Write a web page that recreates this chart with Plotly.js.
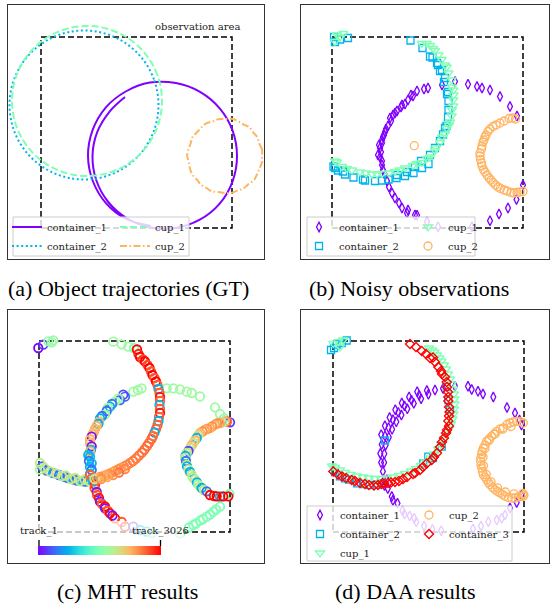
<!DOCTYPE html>
<html>
<head>
<meta charset="utf-8">
<script src="https://cdn.plot.ly/plotly-3.0.1.min.js"></script>
<style>html,body{margin:0;padding:0;background:#fff;}#chart{width:551px;height:607px;}</style>
</head>
<body>
<div id="chart"></div>
<script>
// ---------------- DATA (world units: observation area = [0,191] x [0,191]) ----------------
// (a) ground-truth trajectories
const gtContainer1X = [84,68.8,56.2,51.5,55.3,67.2,86,109.4,134.7,158.8,178.7,191.6,196,191.6,178.7,159,134.9,109,84.7,64.5,51.5,47,52,65.3,85.5,109.6];
const gtContainer1Y = [131,116.7,95.9,72,47.7,26,9.6,0.6,0.1,8.3,24.4,46.7,72,97.3,119.6,136.1,144.9,145.4,136.5,120.2,97.7,72,46.5,24.4,8.8,2.1];
const gtContainer2X = [117.5,113,100.1,80.3,56,30,5.8,-14.1,-27,-31.5,-27,-14.1,5.8,30,56,80.3,100.1,113,117.5];
const gtContainer2Y = [123,148.5,170.9,187.5,196.4,196.4,187.5,170.9,148.5,123,97.5,75.1,58.5,49.6,49.6,58.5,75.1,97.5,123];
const gtCup1X = [121,116.5,103.5,83.5,59,33,8.5,-11.5,-24.5,-29,-24.5,-11.5,8.5,33,59,83.5,103.5,116.5,121];
const gtCup1Y = [127,152.7,175.2,192,200.9,200.9,192,175.2,152.7,127,101.3,78.8,62,53.1,53.1,62,78.8,101.3,127];
const gtCup2X = [221,221,218.3,216.3,212.2,208.2,202.3,196.7,190.6,184,177.5,171.5,165.2,160.2,155.9,151.5,149.6,147.3,146.2,147.8,149,151.4,155.9,160,165.5,171.1,177.6,184,190.5,196.6,202.7,207.5,212.9,216,218.5,220.8,221];
const gtCup2Y = [72,78.5,84.5,90.7,95.7,100.9,103.7,107,109.2,108.9,108.8,106.3,104.6,100.3,95.6,90.8,84.5,78.5,72,65.6,59.3,53.2,48.4,43.4,40,36.6,36,34.9,35.1,37.4,39.7,44,47.8,53.5,59.4,65.5,72];

// (b) noisy observations
const obsContainer1X = [96,92,85,81,79,76,73,70,69,65,63,61,59,58,56,54,53,51,52,50,50,48,47,49,48,46,50,50,51,53,55,57,60,63,67,70,75,76,83,85,95,106,110,123,136,145,150,158,168,178,185,191,184.5,176,167,158,140];
const obsContainer1Y = [140,139,137,132,133,128,124,123,121,117,115,113,107,110,102,99,96,91,93,85,88,80,83,76,71,73,67,63,58,53,47,41,35,30,25,20,15,18,13,12.7,6.3,1.3,143,146.5,143.7,141.5,140,138,131.5,121.5,112,43,28.5,20,14,7.3,1.3];
const obsContainer2X = [3,8,16,2,78.5,90.5,98,100.5,105,106,108,110,113,112,116,115,116.5,116.5,116,114.5,113,111,108,103,98,96.5,90,89,83,81.5,75,73,65,64.5,56.5,50,43,33,31,21.5,13,11,6,1.5,3];
const obsContainer2Y = [186,188.5,190,191,187.5,180,171.5,170.5,165,163,157,158,150,146,136,134,127,118,111,102,100,93.5,87,80,73,64,60,67,61,55,56,52,53,50,48.5,47.5,47,47.5,48.5,50.5,53.5,56.5,57.5,61.5,60];
const obsCup1X = [3,5,11.3,8,89.7,94.7,98,101,103,106.5,109.7,113,114.7,116.5,119.7,120,121.3,121.5,121.3,121.3,120,119.7,118,117,114.7,113,110,108,104,103,98,95,90,85,81,73,68,63,57,50,45,40,34,28,20,15,10,5,3];
const obsCup1Y = [186.5,193,194.5,191,184.5,184.5,182.5,179.5,177.5,173,168.5,163,161,155,148,141,138,133,128,122,118,112,106,103,99.5,94,91,85.5,80,77.5,71,69.5,65.5,64.5,62.5,60,58,56.5,55,54.5,54,54,55,56,58,59.5,61.5,66,67];
const obsCup2X = [82.3,177,180.5,183.5,172,168,164,161,158,156,154,153,152,151,150,149.5,148,148,148.5,149.5,150,151.5,153,155,157,159,161,163.5,166,168.5,172,175,179,182,185,188,191];
const obsCup2Y = [82.3,109.5,110,109,107,105,103,101.5,99,96.5,93,91,88,86,82,79,75,72,68.5,65,62,58.5,56,53,50,48,45.5,43,41,39.5,38,37,35.5,35,35.5,36,36.5];

// (c) MHT results: observation positions and assigned track id (1 .. 3026)
const mhtX = [-0.7,4.3,9.3,12.7,14.3,
  94.3,99,102.7,127.7,134.3,141,147.7,152.7,161,176,181,185,
  190.5,181,177,174.3,171,167.7,164,161,157,154.3,150,141,
  3,7.7,14,20,26,29,35,38,44.3,47,52,1,1,5.5,11,17,23,32,41,50,26.5,36,45.5,
  86,84.3,81,79.3,76,73,71,68.5,67.7,66,63,61,60,59.3,57.7,56,55,53.5,52.7,51,51,52.7,52,51,49.3,51,50,52.7,51,52.7,51,51,53,54.5,56,55.5,57.7,58,60,61,63,66,66,69,71,73.5,76,82.7,86,94.3,101,107.7,113,
  88,85,82,79,76,73,70,67,64,61,58,55.5,86,80,74,68,62,
  74.3,82.7,89.3,95,98,99.5,101,104,106,108.5,110.5,112,113.5,115.5,117,118.5,119.5,120.5,121,121,120.5,121,121,120,119.5,118.5,117,115.5,114,112.5,110,108,105.5,103,100,97,94,91,
  191,188,186,183,181,178,176,173,171,168,166,163.5,161,159,157.7,156,154.3,152.5,151,149.5,147.7,146.5,146,147,147.7,148,149.5,151,152.7,154,156,158,159.3,161,162.7,165,167.7,171,175,181,177.7,184.3,189.3];
const mhtY = [184,187.3,190.7,189.7,191.7,
  140.3,142,143.7,143.7,143.7,142.7,140.3,139,135.5,124.7,118,113.5,
  38,25.3,22.5,20.3,17.5,15.3,13,11.3,8.5,7,4.5,-1.3,
  65.5,61.5,59,57,55,54,52.3,51.5,50.7,50.3,52.3,62.3,69,64,60.5,58.5,56,53,51,51,56.5,54,52.5,
  135.3,137.3,132,133.5,130.3,128,125.3,124,121,117.3,116,113.7,110,108,106,103,100.3,97.5,95.3,92.3,88.7,85.7,82,80.7,77,75.3,71,68.7,65,62,58,57,54,50.3,47.5,44,40,37,34,30.3,28,25.5,23.7,21,18.7,16.5,13.7,10,5.3,5.3,2,0.3,-1,
  67,65.5,64,62.5,61,59.5,58,57,56,55,54,53,63,59.5,57,55,53,
  190.3,187.7,185.3,184,182.5,178,175,172.5,170.5,167,164,160.5,157,154,150.5,147,143,139,135,131,127,123,119,115,111,107,103,99.5,96,93,89,86,82.5,79.5,76.5,73.5,71,69,
  109.7,110.5,110.7,109.5,109,108.5,107.3,105.5,104,103,102.3,100.5,99,96.5,94,91.5,89,86.5,84,81,79,76,74,71,67,65.7,62.5,60,57.3,54.5,52.3,49.5,47.3,45.5,44,42,40.7,37,36,35.5,35.7,35.7,35.7];
const mhtTrack = [5,180,1660,1660,1660,
  1700,1700,1700,1700,1700,1700,1700,1700,1700,1700,1700,1620,
  1513,1513,1513,1513,1513,1513,1513,1513,1513,1513,1513,1513,
  420,420,700,380,650,420,700,450,760,420,760,1700,1900,1950,1950,1950,1950,1950,1950,1900,1900,1950,1900,
  420,250,420,1700,1700,450,700,1700,420,1700,420,760,2270,760,2270,2270,2270,2270,60,2270,2270,60,760,2270,760,760,420,760,760,420,760,2650,2650,760,2950,2700,80,2700,2950,60,2700,3000,80,2700,3000,60,3000,2700,3000,200,760,800,1513,
  2480,2480,2400,2480,2450,2350,2450,2350,2300,2450,2300,1900,2500,2580,2450,2320,2450,
  1700,1700,1700,1550,3026,2900,3026,2750,3026,2750,3026,2700,3026,2700,3026,2650,760,2650,2950,2650,800,2650,2950,2650,760,2650,2650,760,2600,2650,2600,2600,2600,2600,2580,2550,2550,2500,
  200,2600,2300,1700,2300,2500,2350,2450,2300,2450,2300,2450,2270,1950,760,2270,1950,2270,1950,250,1900,760,1900,420,1950,760,1900,760,1950,1750,1950,760,1750,1900,760,1950,420,3026,2950,760,3026,3026,3026];
const trackTickVals = [1, 3026];
const trackTickText = ['track_1', 'track_3026'];

// (d) DAA results
const daaContainer1X = [95.4,93.9,88.1,86.1,84.2,80.8,78.5,76.1,74.3,71.5,68.8,68.4,65.3,62.3,63.3,59.9,56.6,59.1,55.5,51.9,55.8,52,48.2,52.6,48.7,51.3,47.3,48.1,51.1,49.9,50.9,53.8,51.5,54.8,58.8,59.9,64.5,69.5,71.5,76.7,81.3,83.3,91.1,99.4,108.2,
  102,110,122,135,138.7,145,150,160.3,174,182,186.5,188.5,188.5,183.7,177,172,168.7,163.7,155.3,148,140];
const daaContainer1Y = [137.8,141.5,133.3,136.8,140.3,128.6,131.9,135.1,123.2,126.1,129,117,119.6,122.2,110.2,112.3,114.5,102.7,104.4,106.2,94.8,96.1,97.4,86.8,87.6,78.2,78.5,69.4,69.5,60.6,51.6,52.4,46.4,43.5,35.5,31.7,28.7,21.3,17.9,16.1,13.8,10.1,5.9,2.6,1.3,
  142,143.5,145.7,145.7,142.5,140.7,138,135,124.5,119,112,107,37,29.5,24,17,13.7,12,10.3,6,3];
const daaContainer2X = [-2,1,3.7,8.7,13.7,52,113.7,115.3,117,108.7,95.3,90.3,2,7,12,16,24,30,37,44,49,100];
const daaContainer2Y = [182,184,187.3,189,191.5,91.5,145.3,132,122,85.3,75.3,68.7,60,55.7,53.7,52.3,48.7,48,47,47.5,48.7,74];
const daaCup1X = [0.3,5.3,10.3,7,96,99,101.5,104,106.5,108.5,111,113,115,117,118.5,120,121,121.5,121.5,121,120.5,119.5,118,116,113.5,111,108,105,101,97,93,88,83,78,72,66,60,54,48,42,36,30,24,18,12,7,2,-1];
const daaCup1Y = [188.7,190.3,192,185,184,182,180,177,174,171,167,163,158,153,148,143,138,133,128,123,118,113,108,103,98,93,88,83,78,74,70,66.5,63.5,61,58.5,56.5,55,54,53.5,53.5,54,55,56,57.5,59.5,62,64.5,66];
const daaCup2X = [190.3,187,183.7,180,177,174,170.3,167,163.7,161,158.7,156,153.7,152,150.3,149,148.7,147.7,147.7,148,148.7,149.5,150.3,152,153.7,155.5,157,159.5,162,164.5,167,169.5,172,175.5,178.7,182,185.3,188,190.3,191,
  178.1,169.6,162.1,156.1,152,150.1,150.5,153.2,158,164.5,172.4,181,189.9];
const daaCup2Y = [109,110.5,110.7,110,109,107.5,104,103,100.7,98,95.7,93,90.7,87,84,80.5,77.3,74,70.7,67,64,60.5,57.3,55,52.3,49.5,47.3,44.5,42.3,40.5,39,37.5,35.7,34.5,34,34,35,35.5,35.7,37,
  105.5,102.8,98,91.5,83.6,75,66.1,57.6,50.1,44.1,40,38.1,38.5];
const daaContainer3X = [77,83,88.7,93,97,100,102,105.3,108,109,112,113.7,114,115,115.3,115.3,116,116.5,116,115.3,116,114,113,111,109,107,104,101,98.7,93.7,90,87,82,80,74,70,66,62,58,55,51,48.7,45,41,36,32,27,22,18.7,13,9,5,0.3];
const daaContainer3Y = [188,185,181,178,174,174.5,170,165,161,158,155,150,145,140,135,131,125,120,116,111,106,102,99,94,90,85,79,75,72,68.5,65,62,59,58,55,53,51,50,49.5,49,48.5,48,47,46.5,47,48,49,51,52,54,55.5,57.5,60.5];

const observationArea = [0, 191];
const captions = ['(a) Object trajectories (GT)', '(b) Noisy observations', '(c) MHT results', '(d) DAA results'];

// ---------------- STYLE ----------------
const W = 551, H = 607;
const fx = px => px / W;
const fy = py => 1 - py / H;
const C1 = '#8000ff', C2 = '#00b4eb', CUP1 = '#80ffb4', CUP2 = '#ffb462', C3 = '#ff0000';
const rainbow = [[0,'#8000ff'],[0.0625,'#6032fe'],[0.125,'#4062fa'],[0.1875,'#208ef4'],[0.25,'#00b4eb'],[0.3125,'#20d4e1'],[0.375,'#40ecd4'],[0.4375,'#60fac5'],[0.5,'#80ffb4'],[0.5625,'#9ffaa2'],[0.625,'#bfec8e'],[0.6875,'#dfd478'],[0.75,'#ffb462'],[0.8125,'#ff8e4a'],[0.875,'#ff6232'],[0.9375,'#ff3219'],[1,'#ff0000']];
const serif = 'DejaVu Serif';

function mk(x, y, xa, ya, name, symbol, size, color, legend) {
  return {x: x, y: y, xaxis: xa, yaxis: ya, mode: 'markers', name: name, legend: legend,
    marker: {symbol: symbol, size: size, color: color, line: {width: 1.3, color: color}}, hoverinfo: 'skip'};
}
function ln(x, y, name, color, dash, legend) {
  return {x: x, y: y, xaxis: 'x', yaxis: 'y', mode: 'lines', name: name, legend: legend,
    line: {color: color, width: 2, dash: dash, shape: 'spline', smoothing: 1}, hoverinfo: 'skip'};
}

const traces = [
  ln(gtContainer1X, gtContainer1Y, 'container_1', C1, 'solid', 'legend'),
  ln(gtContainer2X, gtContainer2Y, 'container_2', C2, '2px,2.6px', 'legend'),
  ln(gtCup1X, gtCup1Y, 'cup_1', CUP1, '7px,3px', 'legend2'),
  ln(gtCup2X, gtCup2Y, 'cup_2', CUP2, '7px,2.5px,1.5px,2.5px', 'legend2'),

  mk(obsContainer1X, obsContainer1Y, 'x2', 'y2', 'container_1', 'diamond-tall-open', 7, C1, 'legend3'),
  mk(obsContainer2X, obsContainer2Y, 'x2', 'y2', 'container_2', 'square-open', 7, C2, 'legend3'),
  mk(obsCup1X, obsCup1Y, 'x2', 'y2', 'cup_1', 'triangle-down-open', 8, CUP1, 'legend4'),
  mk(obsCup2X, obsCup2Y, 'x2', 'y2', 'cup_2', 'circle-open', 8, CUP2, 'legend4'),

  {x: mhtX, y: mhtY, xaxis: 'x3', yaxis: 'y3', mode: 'markers', name: 'MHT tracks', showlegend: false, hoverinfo: 'skip',
   marker: {symbol: 'circle-open', size: 8.5, color: mhtTrack, colorscale: rainbow, cmin: trackTickVals[0], cmax: trackTickVals[1],
     line: {width: 1.8}, showscale: true,
     colorbar: {orientation: 'h', x: fx(38), xanchor: 'left', y: fy(546), yanchor: 'top', len: 123, lenmode: 'pixels',
       thickness: 9, thicknessmode: 'pixels', xpad: 0, ypad: 0, outlinewidth: 0, borderwidth: 0, ticks: '', showticklabels: false,
       bgcolor: 'rgba(0,0,0,0)'}}},

  mk(daaContainer1X, daaContainer1Y, 'x4', 'y4', 'container_1', 'diamond-tall-open', 7, C1, 'legend5'),
  mk(daaContainer2X, daaContainer2Y, 'x4', 'y4', 'container_2', 'square-open', 7, C2, 'legend5'),
  mk(daaCup1X, daaCup1Y, 'x4', 'y4', 'cup_1', 'triangle-down-open', 8, CUP1, 'legend5'),
  mk(daaCup2X, daaCup2Y, 'x4', 'y4', 'cup_2', 'circle-open', 8, CUP2, 'legend6'),
  mk(daaContainer3X, daaContainer3Y, 'x4', 'y4', 'container_3', 'diamond-open', 7, C3, 'legend6')
];

function ax(domain, range, anchor) {
  return {domain: domain, range: range, anchor: anchor, showgrid: false, zeroline: false, showticklabels: false, ticks: '',
    showline: true, mirror: true, linecolor: '#333', linewidth: 1.3, fixedrange: true};
}
function leg(xpx, ypx) {
  return {x: fx(xpx), y: fy(ypx), xanchor: 'left', yanchor: 'top', bgcolor: 'rgba(0,0,0,0)', borderwidth: 0,
    orientation: 'v', traceorder: 'normal', tracegroupgap: 0, font: {family: serif, size: 10, color: '#222'}};
}
function box(xref, yref) {
  return {type: 'rect', xref: xref, yref: yref, x0: observationArea[0], x1: observationArea[1], y0: observationArea[0], y1: observationArea[1],
    line: {color: '#000', width: 1.5, dash: '6px,3px'}, layer: 'below'};
}
function pbox(x0, y0, x1, y1, fill, lc, lw) {
  return {type: 'rect', xref: 'paper', yref: 'paper', x0: fx(x0), x1: fx(x1), y0: fy(y1), y1: fy(y0),
    fillcolor: fill, line: {color: lc, width: lw}, layer: 'above'};
}
function tick(px) {
  return {type: 'line', xref: 'paper', yref: 'paper', x0: fx(px), x1: fx(px), y0: fy(546), y1: fy(540),
    line: {color: '#000', width: 1.3}, layer: 'above'};
}
function cap(text, xpx, ypx) {
  return {text: text, xref: 'paper', yref: 'paper', x: fx(xpx), y: fy(ypx), xanchor: 'center', yanchor: 'middle',
    showarrow: false, font: {family: 'Liberation Serif, Times New Roman, serif', size: 22, color: '#000'}};
}

const layout = {
  width: W, height: H, margin: {l: 0, r: 0, t: 0, b: 0}, paper_bgcolor: '#fff', plot_bgcolor: '#fff',
  showlegend: true, hovermode: false,
  xaxis: ax([fx(8), fx(264)], [-33, 223], 'y'),
  yaxis: ax([fy(259), fy(5)], [-31, 223], 'x'),
  xaxis2: ax([fx(301), fx(549)], [-31, 217], 'y2'),
  yaxis2: ax([fy(259), fy(5)], [-31, 223], 'x2'),
  xaxis3: ax([fx(8), fx(264)], [-31, 225], 'y3'),
  yaxis3: ax([fy(563), fy(310)], [-31, 222], 'x3'),
  xaxis4: ax([fx(301), fx(549)], [-32, 216], 'y4'),
  yaxis4: ax([fy(563), fy(310)], [-31, 222], 'x4'),
  legend: leg(7, 212.5), legend2: leg(115, 212.5),
  legend3: leg(299, 212.5), legend4: leg(408, 212.5),
  legend5: leg(300, 500.5), legend6: leg(409, 500.5),
  shapes: [
    box('x', 'y'), box('x2', 'y2'), box('x3', 'y3'), box('x4', 'y4'),
    pbox(13, 217, 189, 256, 'rgba(255,255,255,0.8)', '#cccccc', 1),
    pbox(307, 217, 475, 256, 'rgba(255,255,255,0.8)', '#cccccc', 1),
    pbox(307, 506, 512, 561, 'rgba(255,255,255,0.8)', '#cccccc', 1),
    pbox(14, 521, 184, 561, 'rgba(255,255,255,0.72)', 'rgba(0,0,0,0)', 0),
    tick(39), tick(160.5)
  ],
  annotations: [
    {text: 'observation area', xref: 'x', yref: 'y', x: 156.5, y: 201, xanchor: 'center', yanchor: 'middle', showarrow: false,
     font: {family: serif, size: 10, color: '#222'}},
    {text: trackTickText[0], xref: 'paper', yref: 'paper', x: fx(38.5), y: fy(531), xanchor: 'center', yanchor: 'middle', showarrow: false,
     font: {family: serif, size: 10, color: '#222'}},
    {text: trackTickText[1], xref: 'paper', yref: 'paper', x: fx(160.5), y: fy(531), xanchor: 'center', yanchor: 'middle', showarrow: false,
     font: {family: serif, size: 10, color: '#222'}},
    cap(captions[0], 128.5, 288), cap(captions[1], 409, 288), cap(captions[2], 127.5, 591), cap(captions[3], 405, 591)
  ]
};

Plotly.newPlot('chart', traces, layout, {displayModeBar: false, staticPlot: true});
</script>
</body>
</html>
